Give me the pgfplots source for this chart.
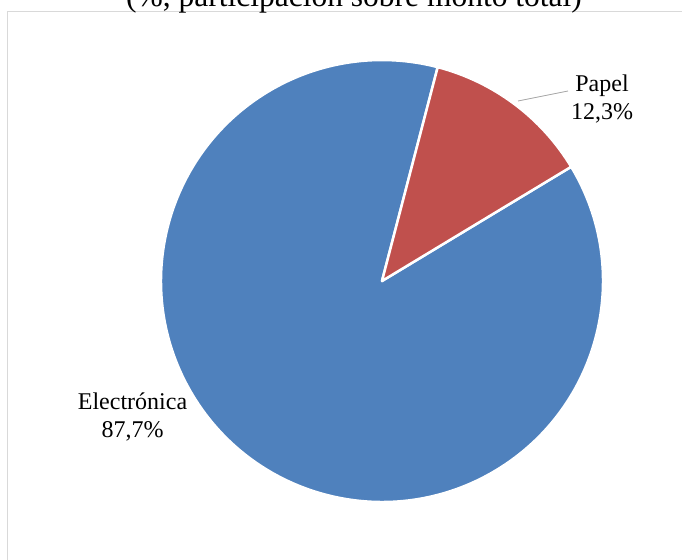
\documentclass[border=0pt]{standalone}
\usepackage{pgfplots}
\pgfplotsset{compat=1.18}
\usepackage{pgfplotstable}
\usepackage{fontspec}
\setmainfont{Liberation Serif}
\definecolor{pieblue}{HTML}{4F81BD}
\definecolor{piered}{HTML}{C0504D}
\definecolor{framegray}{HTML}{D9D9D9}
\definecolor{leadergray}{HTML}{A6A6A6}
\pgfplotstableread{
label value
Papel 12.3
Electronica 87.7
}\piedata
\begin{document}
\begin{tikzpicture}[x=1pt,y=1pt]
\useasboundingbox (-382,-278) rectangle (300,281);
\clip (-382,-278) rectangle (300,281);
\draw[framegray, line width=1pt] (-374,269) rectangle (330,-300);
\pgfplotstablegetelem{0}{value}\of\piedata \let\vA\pgfplotsretval
\pgfplotstablegetelem{1}{value}\of\piedata \let\vB\pgfplotsretval
\pgfmathsetmacro\aS{75.4}
\pgfmathsetmacro\aM{\aS-3.6*\vA}
\pgfmathsetmacro\aE{\aM-3.6*\vB}
\begin{axis}[x=1pt,y=1pt,hide axis,xmin=-382,xmax=300,ymin=-278,ymax=281,
  anchor=origin,at={(0,0)},clip=false]
\filldraw[fill=pieblue, draw=white, line width=2.5pt, line join=round]
  (axis cs:0,0) -- (axis cs:{221*cos(\aM)},{221*sin(\aM)})
  arc[start angle=\aM, end angle=\aE, radius=221] -- cycle;
\filldraw[fill=piered, draw=white, line width=2.5pt, line join=round]
  (axis cs:0,0) -- (axis cs:{221*cos(\aS)},{221*sin(\aS)})
  arc[start angle=\aS, end angle=\aM, radius=221] -- cycle;
\draw[leadergray, line width=0.8pt] (axis cs:136,180) -- (axis cs:186,190);
\node[anchor=base, inner sep=0pt, font=\fontsize{24}{28}\selectfont] at (axis cs:220,189) {Papel};
\node[anchor=base, inner sep=0pt, font=\fontsize{24}{28}\selectfont] at (axis cs:220,161) {12,3\%};
\node[anchor=base, inner sep=0pt, font=\fontsize{24}{28}\selectfont] at (axis cs:-249.5,-128) {Electrónica};
\node[anchor=base, inner sep=0pt, font=\fontsize{24}{28}\selectfont] at (axis cs:-249.5,-156) {87,7\%};
\node[anchor=base, inner sep=0pt, font=\fontsize{31.5}{36}\selectfont] at (axis cs:-28,274) {(\%, participación sobre monto total)};
\end{axis}
\end{tikzpicture}
\end{document}
